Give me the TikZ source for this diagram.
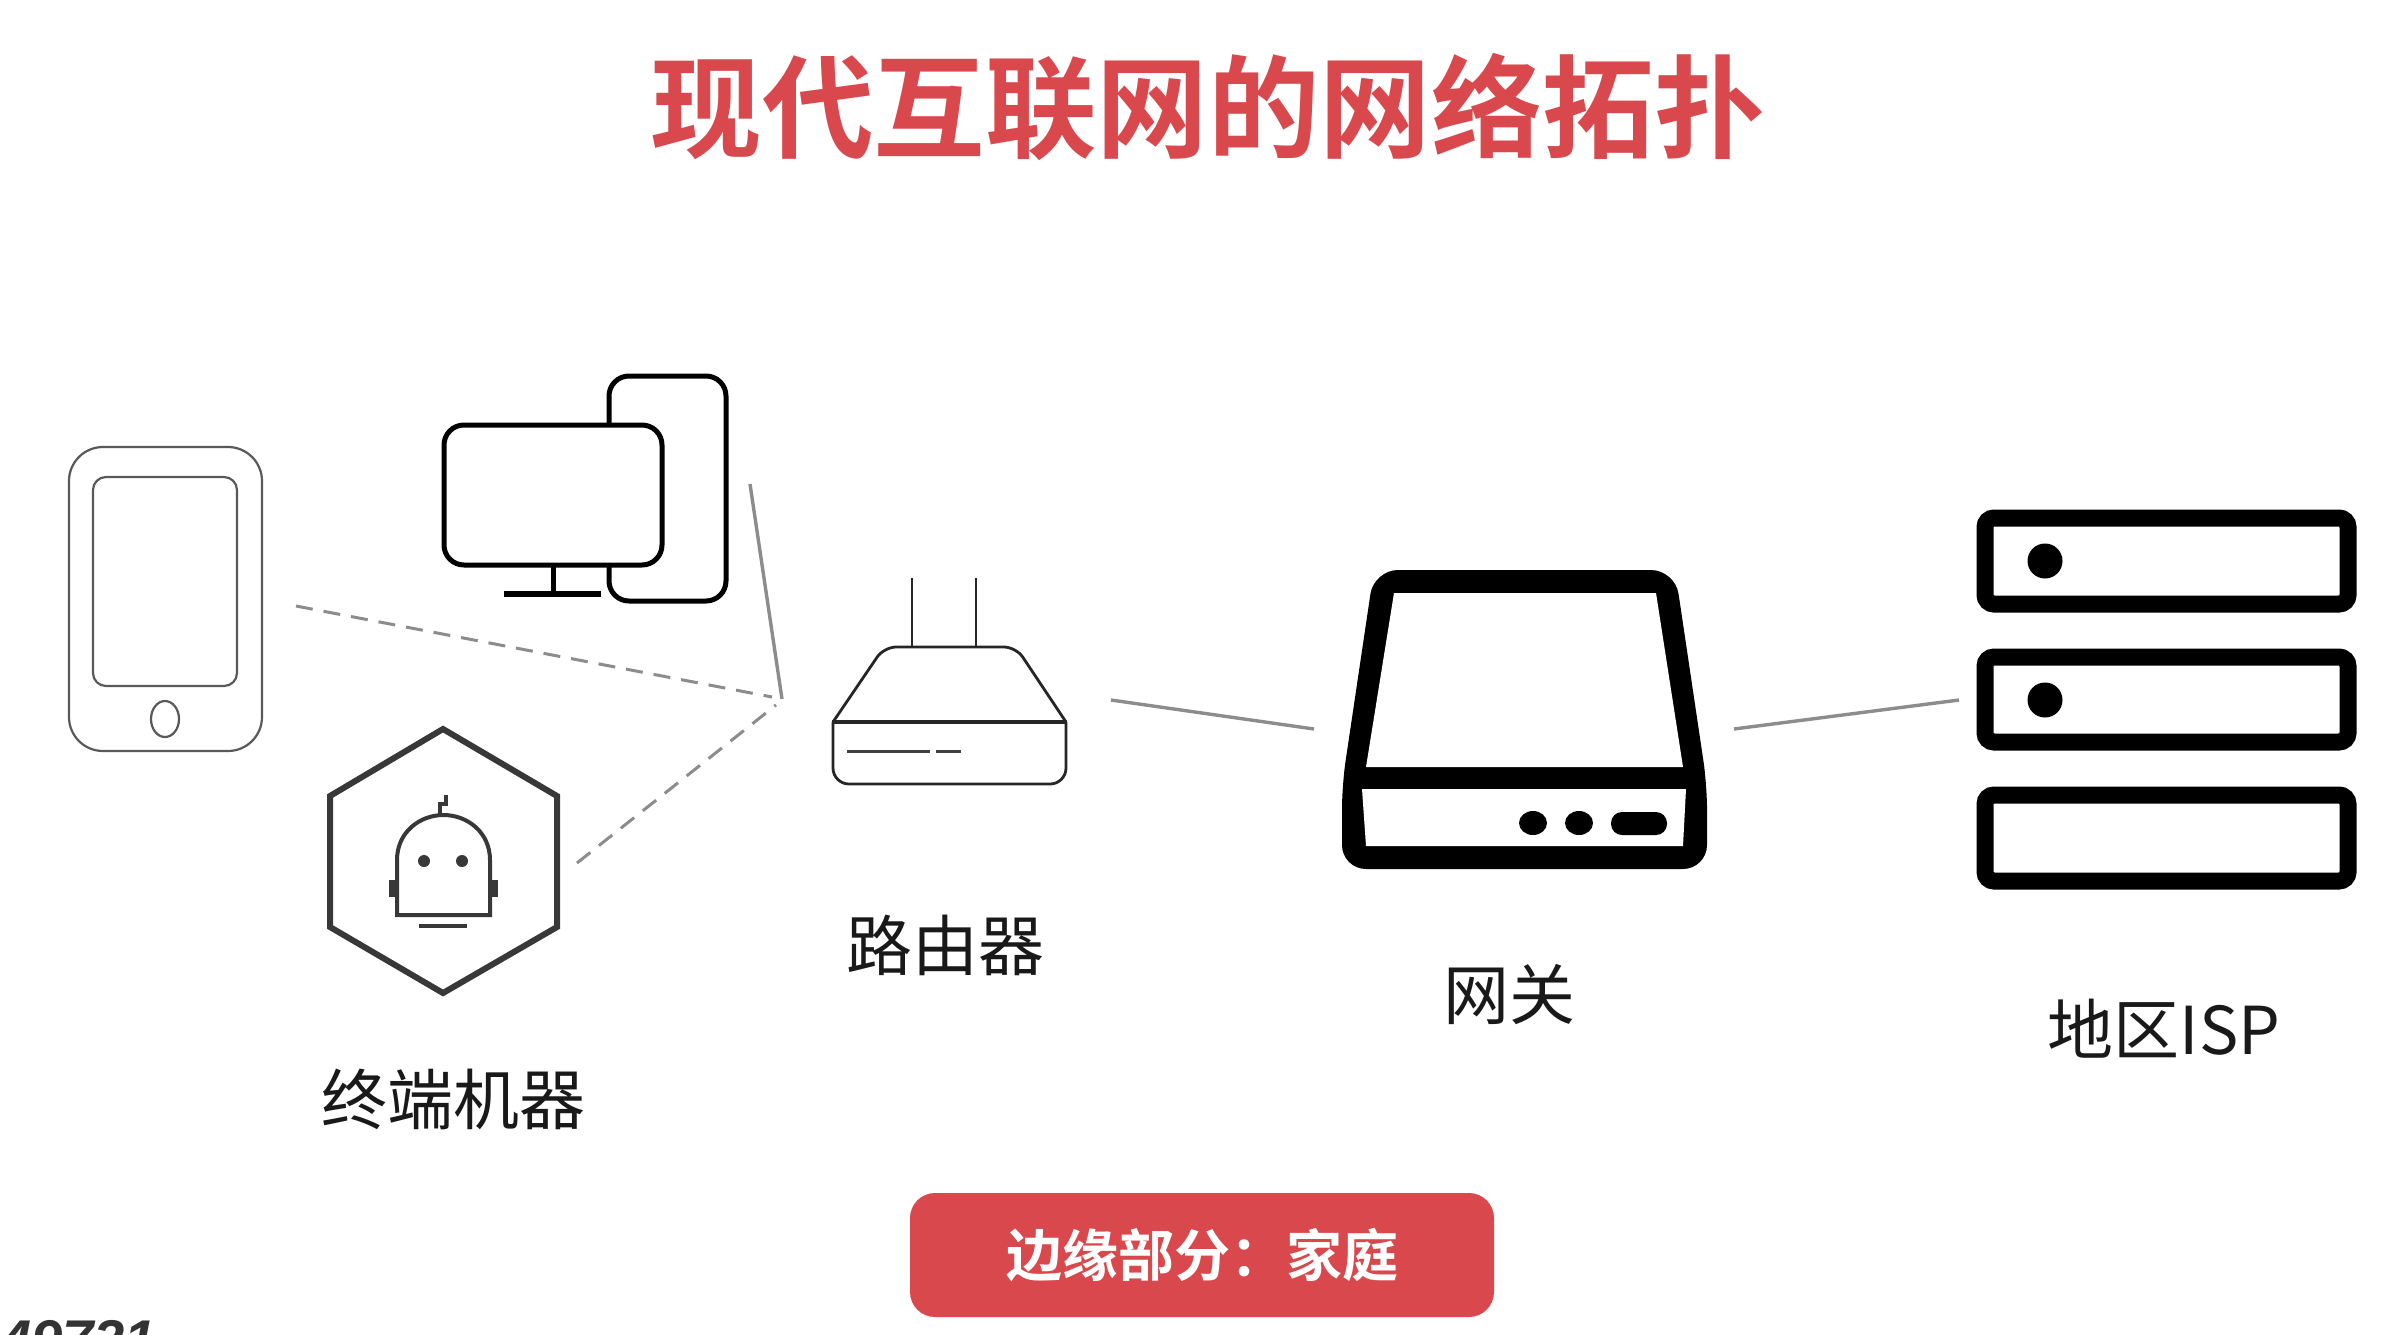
\documentclass[tikz,border=0pt]{standalone}
\usepackage{fontspec}
\setmainfont{Liberation Sans}
\newfontfamily\cjk{Noto Sans CJK SC}
\newfontfamily\cjkb{Noto Sans CJK SC Bold}
\usetikzlibrary{shapes.geometric}
\definecolor{brandred}{HTML}{D9484C}
\definecolor{linkgray}{gray}{0.55}
\definecolor{hexgray}{gray}{0.22}
\tikzset{
  titletext/.style={font=\cjkb\fontsize{111.5}{120}\selectfont, text=brandred, inner sep=0pt},
  labeltext/.style={font=\cjk\fontsize{66}{72}\selectfont, text=black!90, inner sep=0pt},
  badgebox/.style={fill=brandred, rounded corners=25pt, minimum width=584pt, minimum height=124pt, inner sep=0pt,
     font=\cjkb\fontsize{56}{60}\selectfont, text=white},
  solidlink/.style={draw=linkgray, line width=3.4pt},
  dashedlink/.style={draw=linkgray, line width=3pt, dash pattern=on 17pt off 11pt},
  tablet/.style={draw=black!65, line width=2.2pt},
  pc/.style={draw=black, line width=5pt, fill=white},
  robot/.style={draw=hexgray, line width=4pt},
  routerline/.style={draw=black!85, line width=2.8pt},
  serverbox/.style={draw=black, line width=17pt, rounded corners=9pt, fill=white},
}
\begin{document}
\begin{tikzpicture}[x=1pt,y=-1pt]
\useasboundingbox[fill=white] (0,0) rectangle (2390,1334);
\clip (0,0) rectangle (2390,1334);

% title and badge
\node[titletext] (title) at (1208,107) {现代互联网的网络拓扑};
\node[badgebox] (badge) at (1202,1255) {边缘部分：家庭};

% tablet
\draw[tablet, rounded corners=34pt] (69,447) rectangle (262,751);
\draw[tablet, rounded corners=13pt] (93,477) rectangle (237,686);
\draw[tablet] (165,719) ellipse [x radius=14, y radius=18];

% desktop computer
\draw[pc, rounded corners=20pt] (609,376) rectangle (726,601);
\draw[pc, rounded corners=20pt] (444,425) rectangle (662,565);
\draw[draw=black, line width=5pt] (553,565) -- (553,594);
\draw[draw=black, line width=6pt] (504,594) -- (601,594);

% robot in hexagon
\draw[draw=hexgray, line width=6pt, line join=miter] (443,729) -- (557,796) -- (557,927) -- (443,993) -- (330,927) -- (330,796) -- cycle;
\draw[robot, fill=white] (397,915) -- (397,860) .. controls (397,832) and (420,815) .. (443.5,815) .. controls (467,815) and (490,832) .. (490,860) -- (490,915) -- cycle;
\fill[hexgray] (424,861) circle (6);
\fill[hexgray] (462,861) circle (6);
\fill[hexgray] (389,880) rectangle (397,897);
\fill[hexgray] (490,880) rectangle (498,897);
\draw[robot] (419,926) -- (467,926);
\draw[robot] (440,815) -- (440,804) -- (446,804) -- (446,795);

% router
\draw[routerline, rounded corners=12pt] (833,722) -- (884,647) -- (1016,647) -- (1066,722);
\draw[routerline, rounded corners=16pt] (833,722) -- (833,784) -- (1066,784) -- (1066,722);
\draw[draw=black!85, line width=4pt] (832,722) -- (1067,722);
\draw[routerline] (912,578) -- (912,647);
\draw[routerline] (976,578) -- (976,647);
\draw[draw=black!75, line width=3pt] (847,751) -- (930,751);
\draw[draw=black!75, line width=3pt] (936,751) -- (961,751);

% gateway
\fill[black, rounded corners=24pt] (1374,570) -- (1675,570) -- (1707,785) -- (1707,869) -- (1342,869) -- (1342,785) -- cycle;
\fill[white] (1394,593) -- (1656,593) -- (1683,767) -- (1366,767) -- cycle;
\fill[white] (1362,789) -- (1686,789) -- (1683,846) -- (1366,846) -- cycle;
\fill[black] (1533,823) ellipse [x radius=14, y radius=12];
\fill[black] (1579,823) ellipse [x radius=14, y radius=12];
\fill[black, rounded corners=11pt] (1611,812) rectangle (1667,835);

% regional ISP servers
\draw[serverbox] (1985,518) rectangle (2348,604);
\draw[serverbox] (1985,657) rectangle (2348,742);
\draw[serverbox] (1985,795) rectangle (2348,881);
\fill[black] (2045,561) ellipse [x radius=17.5, y radius=17.5];
\fill[black] (2045,700) ellipse [x radius=17.5, y radius=17.5];

% connector end points
\coordinate (hub) at (782,699);
\coordinate (pcend) at (750,484);
\coordinate (tabletend) at (296,606);
\coordinate (hubA) at (772,697);
\coordinate (hubB) at (776,705);
\coordinate (robotend) at (577,863);
\coordinate (routerR) at (1111,700);
\coordinate (gateL) at (1314,729);
\coordinate (gateR) at (1734,729);
\coordinate (ispL) at (1959,700);

\draw[solidlink] (pcend) -- (hub);
\draw[dashedlink] (tabletend) -- (hubA);
\draw[dashedlink] (robotend) -- (hubB);
\draw[solidlink] (routerR) -- (gateL);
\draw[solidlink] (gateR) -- (ispL);

% labels
\node[labeltext] (lrouter) at (945,945) {路由器};
\node[labeltext] (lgate) at (1509,995) {网关};
\node[labeltext] (lisp) at (2164,1029) {地区ISP};
\node[labeltext] (lterm) at (453,1099) {终端机器};
\node[anchor=base west, inner sep=0pt, font=\fontsize{56}{60}\selectfont\bfseries\itshape, text=black!80] (wm) at (0,1359) {49721};
\end{tikzpicture}
\end{document}
